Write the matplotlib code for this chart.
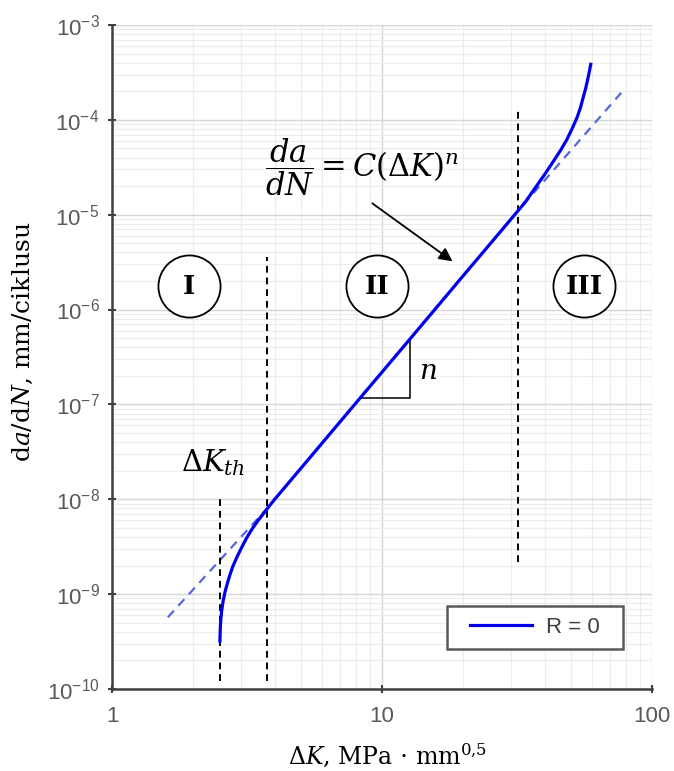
import numpy as np
import matplotlib
matplotlib.use('Agg')
import matplotlib.pyplot as plt
from matplotlib.ticker import LogLocator, FuncFormatter, NullFormatter
from matplotlib.legend_handler import HandlerLine2D

# crack growth curve (R = 0)
dK = [2.51, 2.515, 2.52, 2.53, 2.55, 2.58, 2.62, 2.67, 2.73, 2.80, 2.90, 3.02, 3.15, 3.30,
      3.48, 3.75, 4.0, 5.0, 6.5, 8.28, 10.5, 12.7, 16.0, 20.0, 25.0, 28.0, 31.9,
      34.0, 37.5, 40.0, 43.0, 46.0, 48.4, 50.5, 52.7, 54.3, 55.5, 56.8, 57.9, 58.7, 59.3]
dadN = [3.2e-10, 3.97e-10, 4.59e-10, 5.48e-10, 6.82e-10, 8.5e-10, 1.05e-9, 1.28e-9, 1.58e-9,
        1.95e-9, 2.45e-9, 3.1e-9, 3.9e-9, 4.85e-9,
        6.0e-9, 7.9e-9, 9.95e-9, 2.11e-8, 5.12e-8, 1.16e-7, 2.58e-7, 4.9e-7, 1.07e-6, 2.28e-6,
        4.83e-6, 7.08e-6, 1.10e-5,
        1.37e-5, 2.04e-5, 2.65e-5, 3.61e-5, 4.85e-5, 6.22e-5, 7.98e-5, 1.05e-4, 1.34e-4,
        1.69e-4, 2.15e-4, 2.75e-4, 3.31e-4, 3.85e-4]

# Paris law line (dashed)
paris_K = [1.61, 3.75, 31.9, 77.4]
paris_y = [5.7e-10, 8.0e-9, 1.1e-5, 1.97e-4]

# region borders
border_K = [2.51, 3.75, 31.9]
border_lo = [1.2e-10, 1.2e-10, 2.2e-9]
border_hi = [1.1e-8, 3.6e-6, 1.37e-4]

# slope triangle
tri_K = [8.28, 12.7, 12.7]
tri_y = [1.16e-7, 1.16e-7, 4.9e-7]

# region labels
regions = ['I', 'II', 'III']
region_K = [1.93, 9.58, 56.0]
region_y = [1.75e-6, 1.75e-6, 1.75e-6]

plt.rcParams['font.family'] = ['Liberation Sans', 'DejaVu Sans']

fig = plt.figure(figsize=(6.74, 7.71), dpi=100)
ax = fig.add_axes([0.1662, 0.1064, 0.8012, 0.8612])
ax.set_xscale('log')
ax.set_yscale('log')
ax.set_xlim(1, 100)
ax.set_ylim(1e-10, 1e-3)

ax.yaxis.set_major_locator(LogLocator(base=10, numticks=20))
ax.yaxis.set_minor_locator(LogLocator(base=10, subs=np.arange(2, 10), numticks=20))
ax.xaxis.set_minor_locator(LogLocator(base=10, subs=np.arange(2, 10), numticks=20))
ax.yaxis.set_major_formatter(FuncFormatter(lambda v, p: r'$\mathregular{10^{%d}}$' % round(np.log10(v))))
ax.xaxis.set_major_formatter(FuncFormatter(lambda v, p: '%d' % round(v)))
ax.yaxis.set_minor_formatter(NullFormatter())
ax.xaxis.set_minor_formatter(NullFormatter())

ax.grid(which='major', color='#d6d6d6', lw=1.0)
ax.grid(which='minor', color='#ececec', lw=0.8)
ax.set_axisbelow(True)

for s in ['top', 'right']:
    ax.spines[s].set_visible(False)
for s in ['left', 'bottom']:
    ax.spines[s].set_color('#404040')
    ax.spines[s].set_linewidth(1.8)

ax.tick_params(which='major', direction='inout', length=6, width=1.5, color='#404040',
               labelsize=16, labelcolor='#595959')
ax.tick_params(axis='x', which='major', pad=9)
ax.tick_params(axis='y', which='major', pad=6)
ax.tick_params(which='minor', length=0)

# curves
ax.plot(paris_K, paris_y, color='#5566dd', lw=1.6, ls=(0, (4, 3)), zorder=3)
line, = ax.plot(dK, dadN, color='#0000ee', lw=2.3, label='R = 0  ', zorder=4)

for k, lo, hi in zip(border_K, border_lo, border_hi):
    ax.plot([k, k], [lo, hi], color='black', lw=1.4, ls=(0, (3.5, 2.5)), zorder=3)

ax.plot(tri_K, tri_y, color='black', lw=1.1, zorder=3)
ax.text(14.8, 2.2e-7, r'$n$', fontsize=20, math_fontfamily='dejavuserif',
        ha='center', va='center')

# region circles
ax.scatter(region_K, region_y, s=2000, facecolor='white', edgecolor='black', lw=1.3, zorder=5)
for r, k, y in zip(regions, region_K, region_y):
    ax.text(k, y, r, fontsize=19, fontweight='bold', family='DejaVu Serif',
            ha='center', va='center', zorder=6)

ax.text(8.43, 3.2e-5, r'$\dfrac{da}{dN} = C(\Delta K)^n$', fontsize=22,
        math_fontfamily='dejavuserif', ha='center', va='center')
ax.annotate('', xy=(18.6, 3.1e-6), xytext=(9.03, 1.37e-5),
            arrowprops=dict(arrowstyle='-|>', color='black', lw=1.3, mutation_scale=20))

ax.text(2.37, 2.45e-8, r'$\Delta K_{th}$', fontsize=21, math_fontfamily='dejavuserif',
        ha='center', va='center')

ax.set_ylabel(r'd$a$/d$N$, mm/ciklusu', family='DejaVu Serif', math_fontfamily='dejavuserif',
              fontsize=18)
ax.yaxis.set_label_coords(-0.143, 0.523)
ax.set_xlabel(r'$\Delta K$, MPa $\cdot$ mm$^{0{,}5}$', family='DejaVu Serif',
              math_fontfamily='dejavuserif', fontsize=17)
ax.xaxis.set_label_coords(0.511, -0.079)

leg = ax.legend(handles=[line], loc='lower right', bbox_to_anchor=(0.946, 0.06),
                borderaxespad=0, fancybox=False, framealpha=1, fontsize=16,
                handlelength=3.3, handletextpad=0.63, borderpad=0.5,
                handler_map={line: HandlerLine2D(xpad=0.5)})
leg.get_frame().set_edgecolor('#595959')
leg.get_frame().set_linewidth(1.8)
for t in leg.get_texts():
    t.set_color('#404040')

plt.savefig('out.png', dpi=100)
